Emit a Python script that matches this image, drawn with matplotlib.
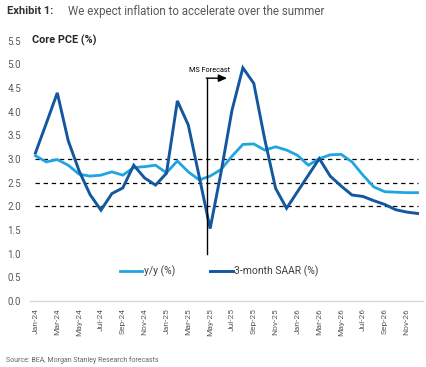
import matplotlib
matplotlib.use("Agg")
import matplotlib.pyplot as plt
import numpy as np

months = ["Jan-24", "Feb-24", "Mar-24", "Apr-24", "May-24", "Jun-24", "Jul-24", "Aug-24", "Sep-24", "Oct-24", "Nov-24", "Dec-24",
          "Jan-25", "Feb-25", "Mar-25", "Apr-25", "May-25", "Jun-25", "Jul-25", "Aug-25", "Sep-25", "Oct-25", "Nov-25", "Dec-25",
          "Jan-26", "Feb-26", "Mar-26", "Apr-26", "May-26", "Jun-26", "Jul-26", "Aug-26", "Sep-26", "Oct-26", "Nov-26", "Dec-26"]
yoy = [3.07, 2.94, 2.99, 2.87, 2.68, 2.64, 2.66, 2.73, 2.66, 2.82, 2.84, 2.87,
       2.71, 2.96, 2.73, 2.56, 2.64, 2.78, 3.06, 3.31, 3.32, 3.19, 3.26, 3.19,
       3.08, 2.87, 3.01, 3.09, 3.10, 2.94, 2.66, 2.41, 2.31, 2.30, 2.29, 2.29]
saar = [3.13, 3.76, 4.40, 3.39, 2.75, 2.25, 1.92, 2.27, 2.39, 2.87, 2.60, 2.45,
        2.70, 4.23, 3.72, 2.63, 1.53, 2.72, 4.03, 4.93, 4.60, 3.42, 2.38, 1.96,
        2.31, 2.66, 3.01, 2.64, 2.43, 2.24, 2.21, 2.12, 2.04, 1.93, 1.88, 1.85]
ref_levels = [2.0, 2.5, 3.0]
forecast_x = 15.7
forecast_y = (1.0, 4.71)
arrow_end = 17.55

LIGHT = "#1FA6E0"
DARK = "#13589F"

fig = plt.figure(figsize=(4.27, 3.67), dpi=100)
ax = fig.add_axes([30/427, 1 - 301/367, 393/427, 260.2/367])

x = np.arange(len(months))
ax.hlines(ref_levels, 0, len(months) - 1, colors="black", linestyles=(0, (3.5, 3)), linewidth=0.9, zorder=1)
ax.plot(x, yoy, color=LIGHT, lw=2.0, label="y/y (%)", zorder=3, solid_joinstyle="miter")
ax.plot(x, saar, color=DARK, lw=2.1, label="3-month SAAR (%)", zorder=4, solid_joinstyle="miter")

# forecast marker
ax.plot([forecast_x, forecast_x], list(forecast_y), color="black", lw=1.0, zorder=5)
ax.annotate("", xy=(arrow_end, forecast_y[1]), xytext=(forecast_x - 0.05, forecast_y[1]),
            arrowprops=dict(arrowstyle="-|>,head_length=0.5,head_width=0.22", color="black", lw=1.0,
                            shrinkA=0, shrinkB=0), zorder=5)
ax.text(15.98, 4.87, "MS Forecast", fontsize=5.2, family=["Liberation Sans Narrow", "Roboto"],
        ha="center", va="center", color="black")

ax.set_xlim(-0.5, len(months) - 0.5)
ax.set_ylim(0, 5.5)
ax.set_yticks(np.arange(0, 5.51, 0.5))
ax.set_yticklabels([f"{v:.1f}" for v in np.arange(0, 5.51, 0.5)], fontsize=7, family="Roboto", color="#595959")
ax.set_xticks(x[::2])
ax.set_xticklabels(months[::2], rotation=90, fontsize=6, family=["Liberation Sans Narrow", "Roboto"], color="#595959")
ax.tick_params(axis="both", length=0)
ax.tick_params(axis="y", pad=6.5)
ax.tick_params(axis="x", pad=5)
for s in ["top", "right", "left"]:
    ax.spines[s].set_visible(False)
ax.spines["bottom"].set_color("#D9D9D9")
ax.spines["bottom"].set_linewidth(1.0)

ax.text(0.005, 1.0, "Core PCE (%)", transform=ax.transAxes, fontsize=7.8, fontweight="bold",
        family="Roboto", color="#262626", va="center", ha="left")

leg = ax.legend(loc="center", bbox_to_anchor=(0.481, 0.115), ncol=2, frameon=False,
                prop={"family": "Roboto", "size": 7.5}, handlelength=2.2, handletextpad=0.1,
                columnspacing=3.4)
for t in leg.get_texts():
    t.set_color("#404040")

fig.text(7/427, 1 - 11/367, "Exhibit 1:", fontsize=8, fontweight="bold", family="Roboto",
         color="#333333", va="center", ha="left")
fig.text(68/427, 1 - 11/367, "We expect inflation to accelerate over the summer", fontsize=8.3,
         family="Roboto", color="#595959", va="center", ha="left")
fig.text(6/427, 1 - 360/367, "Source: BEA, Morgan Stanley Research forecasts", fontsize=5,
         family="Roboto", color="#666666", va="center", ha="left")

fig.savefig("out.png", dpi=100)
